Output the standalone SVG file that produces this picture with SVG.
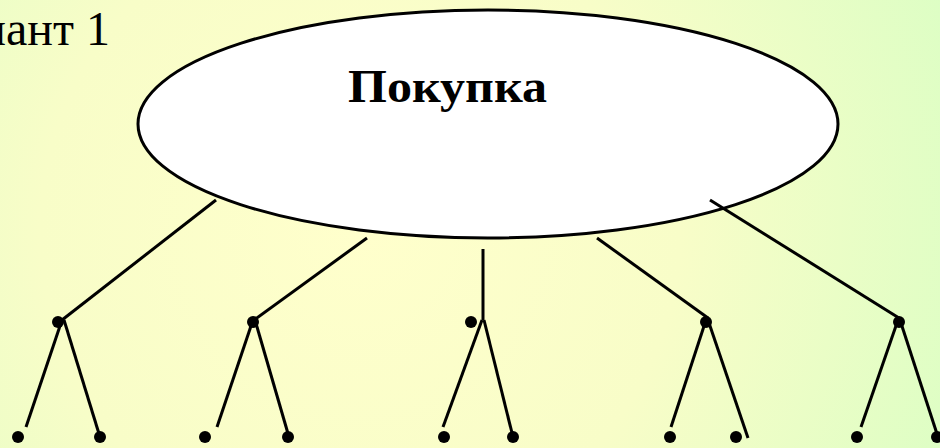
<svg xmlns="http://www.w3.org/2000/svg" width="940" height="448" viewBox="0 0 940 448">
<defs>
<radialGradient id="bg" cx="360" cy="230" r="640" gradientUnits="userSpaceOnUse">
<stop offset="0" stop-color="#FFFFCC"/>
<stop offset="0.5" stop-color="#F8FDC8"/>
<stop offset="1" stop-color="#DCFEC4"/>
</radialGradient>
</defs>
<style>
.ln{stroke:#000;stroke-width:3;fill:none}
.dot{fill:#000}
.title{font-family:"Liberation Serif","Times New Roman",serif;font-weight:bold;font-size:46px;fill:#000}
.cap{font-family:"Liberation Serif","Times New Roman",serif;font-size:48px;fill:#000}
</style>
<rect width="940" height="448" fill="url(#bg)"/>
<text class="cap" x="110" y="45" text-anchor="end">Вариант 1</text>
<g id="root">
<ellipse cx="488" cy="124" rx="350" ry="114" fill="#fff" stroke="#000" stroke-width="3"/>
<text class="title" x="348" y="102" textLength="199" lengthAdjust="spacingAndGlyphs">Покупка</text>
</g>
<g id="connectors">
<line class="ln" x1="216" y1="200" x2="62" y2="320"/>
<line class="ln" x1="367" y1="238" x2="254" y2="320"/>
<line class="ln" x1="483" y1="249" x2="483" y2="320"/>
<line class="ln" x1="597" y1="238" x2="708" y2="318"/>
<line class="ln" x1="710" y1="200" x2="899" y2="318"/>
<line class="ln" x1="62" y1="320" x2="26" y2="427"/>
<line class="ln" x1="64" y1="320" x2="100" y2="437"/>
<line class="ln" x1="253" y1="320" x2="217" y2="427"/>
<line class="ln" x1="255" y1="320" x2="289" y2="437"/>
<line class="ln" x1="482" y1="320" x2="443" y2="427"/>
<line class="ln" x1="484" y1="320" x2="513" y2="437"/>
<line class="ln" x1="706" y1="320" x2="671" y2="427"/>
<line class="ln" x1="708" y1="320" x2="748" y2="438"/>
<line class="ln" x1="898" y1="320" x2="861" y2="427"/>
<line class="ln" x1="900" y1="320" x2="938" y2="437"/>
</g>
<g id="n1"><circle class="dot" cx="58" cy="322" r="6"/></g>
<g id="n2"><circle class="dot" cx="253" cy="322" r="6"/></g>
<g id="n3"><circle class="dot" cx="471" cy="322" r="6"/></g>
<g id="n4"><circle class="dot" cx="706" cy="322" r="6"/></g>
<g id="n5"><circle class="dot" cx="899" cy="322" r="6"/></g>
<g id="l1"><circle class="dot" cx="18" cy="437" r="6"/></g>
<g id="l2"><circle class="dot" cx="100" cy="437" r="6"/></g>
<g id="l3"><circle class="dot" cx="205" cy="437" r="6"/></g>
<g id="l4"><circle class="dot" cx="288" cy="437" r="6"/></g>
<g id="l5"><circle class="dot" cx="444" cy="437" r="6"/></g>
<g id="l6"><circle class="dot" cx="513" cy="437" r="6"/></g>
<g id="l7"><circle class="dot" cx="670" cy="437" r="6"/></g>
<g id="l8"><circle class="dot" cx="736" cy="437" r="6"/></g>
<g id="l9"><circle class="dot" cx="857" cy="437" r="6"/></g>
<g id="l10"><circle class="dot" cx="937" cy="437" r="6"/></g>
</svg>
